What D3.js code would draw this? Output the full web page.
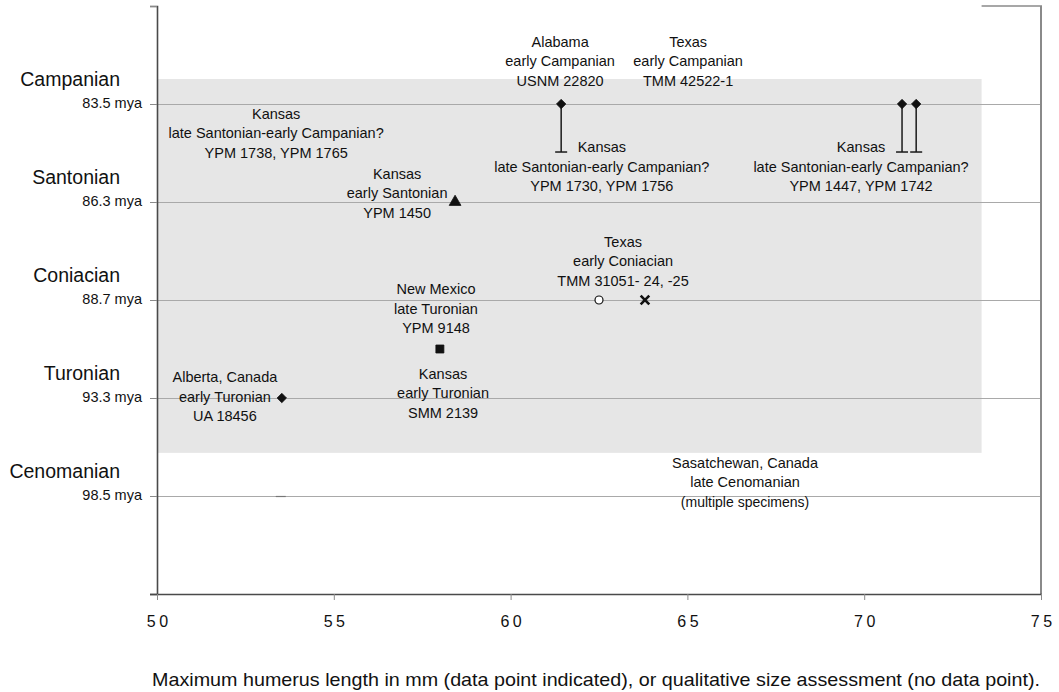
<!DOCTYPE html>
<html>
<head>
<meta charset="utf-8">
<script src="https://cdn.jsdelivr.net/npm/d3@7"></script>
<style>
  html, body { margin: 0; padding: 0; background: #fff; }
  svg { display: block; font-family: "Liberation Sans", Arial, sans-serif; }
</style>
</head>
<body>
<svg id="chart" width="1059" height="692"></svg>
<script>
// ---- data ----
const stages = ["Campanian", "Santonian", "Coniacian", "Turonian", "Cenomanian"];
const stageAges = ["83.5 mya", "86.3 mya", "88.7 mya", "93.3 mya", "98.5 mya"];
const stageLevels = [0, 1, 2, 3, 4];
const xTicks = [50, 55, 60, 65, 70, 75];
const xTitle = "Maximum humerus length in mm (data point indicated), or qualitative size assessment (no data point).";

// specimen points: humerus length (mm) and stage level (0 = Campanian ... 4 = Cenomanian)
const pointLength = [61.43, 71.07, 71.47, 58.43, 62.5, 63.8, 58.0, 53.53, 53.5];
const pointLevel  = [0, 0, 0, 1, 2, 2, 2.5, 3, 4];
const pointShape  = ["diamond", "diamond", "diamond", "triangle", "circle", "cross", "square", "diamond", "dash"];
// error bar lower end (stage level), null when none
const pointErrLow = [0.49, 0.49, 0.49, null, null, null, null, null, null];

// annotation labels: anchor (length, level) of first line
const labelLines = [
  ["Alabama", "early Campanian", "USNM 22820"],
  ["Texas", "early Campanian", "TMM 42522-1"],
  ["Kansas", "late Santonian-early Campanian?", "YPM 1738, YPM 1765"],
  ["Kansas", "late Santonian-early Campanian?", "YPM 1730, YPM 1756"],
  ["Kansas", "late Santonian-early Campanian?", "YPM 1447, YPM 1742"],
  ["Kansas", "early Santonian", "YPM 1450"],
  ["Texas", "early Coniacian", "TMM 31051- 24, -25"],
  ["New Mexico", "late Turonian", "YPM 9148"],
  ["Kansas", "early Turonian", "SMM 2139"],
  ["Alberta, Canada", "early Turonian", "UA 18456"],
  ["Sasatchewan, Canada", "late Cenomanian", "(multiple specimens)"]
];
const labelLength = [61.40, 65.02, 53.37, 62.58, 69.91, 56.79, 63.18, 57.89, 58.09, 51.92, 66.63];
const labelLevel  = [-0.633, -0.633, 0.102, 0.439, 0.439, 0.714, 1.408, 1.888, 2.755, 2.786, 3.663];

// shaded band (length range, level range)
const bandLength = [50, 73.32];
const bandLevel = [-0.255, 3.56];

// ---- drawing ----
const svg = d3.select("#chart");
const x = d3.scaleLinear().domain([50, 75]).range([157, 1041]);
const y = d3.scaleLinear().domain([-1, 5]).range([6, 594]);

// shaded band
svg.append("rect")
  .attr("x", x(bandLength[0]) + 1)
  .attr("y", y(bandLevel[0]))
  .attr("width", x(bandLength[1]) - x(bandLength[0]) - 1)
  .attr("height", y(bandLevel[1]) - y(bandLevel[0]))
  .attr("fill", "#e6e6e6");

// gridlines
svg.append("g").selectAll("line").data(stageLevels).join("line")
  .attr("x1", 150).attr("x2", x(75))
  .attr("y1", d => Math.round(y(d)) + 0.5).attr("y2", d => Math.round(y(d)) + 0.5)
  .attr("stroke", "#a9a9a9").attr("stroke-width", 1);

// right border and top line
svg.append("line")
  .attr("x1", x(75)).attr("x2", x(75)).attr("y1", y(-1)).attr("y2", y(5))
  .attr("stroke", "#8a8a8a").attr("stroke-width", 2);
svg.append("line")
  .attr("x1", x(bandLength[1])).attr("x2", x(75) + 1).attr("y1", y(-1)).attr("y2", y(-1))
  .attr("stroke", "#8a8a8a").attr("stroke-width", 1.5);

// y axis (ticks only)
const yAxis = d3.axisLeft(y).tickValues([-1, 0, 1, 2, 3, 4, 5]).tickSize(7).tickFormat("");
const gy = svg.append("g").attr("transform", `translate(${x(50)},0)`).call(yAxis);
gy.select(".domain").attr("stroke", "#4a4a4a").attr("stroke-width", 1.6);
gy.selectAll(".tick line").attr("stroke", "#8a8a8a");

// x axis
const xAxis = d3.axisBottom(x).tickValues(xTicks).tickSize(6).tickPadding(16).tickSizeOuter(0);
const gx = svg.append("g").attr("transform", `translate(0,${y(5)})`).call(xAxis);
gx.select(".domain").attr("stroke", "#4a4a4a").attr("stroke-width", 1.6)
  .attr("d", `M150,0.5H${x(75) + 1}`);
gx.selectAll(".tick line").attr("stroke", "#8a8a8a");
gx.selectAll(".tick text")
  .attr("font-size", 16)
  .attr("font-family", "Liberation Sans, Arial, sans-serif")
  .attr("fill", "#111")
  .attr("letter-spacing", "3.5px")
  .attr("dx", "1.75px");

// stage labels
svg.append("g").selectAll("text").data(stageLevels).join("text")
  .attr("x", 120).attr("y", d => y(d) - 18)
  .attr("text-anchor", "end").attr("font-size", 19.5).attr("fill", "#111")
  .text((d, i) => stages[i]);
svg.append("g").selectAll("text").data(stageLevels).join("text")
  .attr("x", 142).attr("y", d => y(d) + 4)
  .attr("text-anchor", "end").attr("font-size", 14.5).attr("fill", "#111")
  .text((d, i) => stageAges[i]);

// error bars
const errIdx = d3.range(pointLength.length).filter(i => pointErrLow[i] !== null);
const eg = svg.append("g").attr("stroke", "#1a1a1a").attr("stroke-width", 1.5);
eg.selectAll("line.v").data(errIdx).join("line").attr("class", "v")
  .attr("x1", i => x(pointLength[i])).attr("x2", i => x(pointLength[i]))
  .attr("y1", i => y(pointLevel[i])).attr("y2", i => y(pointErrLow[i]));
eg.selectAll("line.c").data(errIdx).join("line").attr("class", "c")
  .attr("x1", i => x(pointLength[i]) - 6).attr("x2", i => x(pointLength[i]) + 6)
  .attr("y1", i => y(pointErrLow[i])).attr("y2", i => y(pointErrLow[i]));

// markers
const symMap = {
  diamond: d3.symbol().type(d3.symbolDiamond2).size(56),
  triangle: d3.symbol().type(d3.symbolTriangle).size(60),
  square: d3.symbol().type(d3.symbolSquare).size(64),
  cross: d3.symbol().type(d3.symbolX).size(50),
  circle: d3.symbol().type(d3.symbolCircle).size(50)
};
const mg = svg.append("g");
d3.range(pointLength.length).forEach(i => {
  const s = pointShape[i];
  const cx = x(pointLength[i]), cy = y(pointLevel[i]);
  if (s === "dash") {
    mg.append("line").attr("x1", cx - 5).attr("x2", cx + 5)
      .attr("y1", Math.round(cy) + 0.5).attr("y2", Math.round(cy) + 0.5)
      .attr("stroke", "#777").attr("stroke-width", 1.2);
    return;
  }
  const p = mg.append("path").attr("d", symMap[s]()).attr("transform", `translate(${cx},${cy})`);
  if (s === "circle") p.attr("fill", "#fff").attr("stroke", "#111").attr("stroke-width", 1.2);
  else if (s === "cross") p.attr("fill", "none").attr("stroke", "#111").attr("stroke-width", 2.6);
  else p.attr("fill", "#111").attr("stroke", "#111").attr("stroke-width", 0.8);
});

// annotation labels
const lg = svg.append("g").attr("fill", "#111").attr("text-anchor", "middle");
labelLines.forEach((lines, i) => {
  const t = lg.append("text").attr("x", x(labelLength[i])).attr("y", y(labelLevel[i]) + 5);
  lines.forEach((ln, j) => {
    t.append("tspan").attr("x", x(labelLength[i])).attr("dy", j === 0 ? 0 : 19.5)
      .attr("font-size", (i === 10 && j === 2) ? 14 : 14.5)
      .text(ln);
  });
});

// x axis title
svg.append("text")
  .attr("x", 152).attr("y", 686)
  .attr("font-size", 19).attr("fill", "#111")
  .attr("textLength", 888).attr("lengthAdjust", "spacingAndGlyphs")
  .text(xTitle);
</script>
</body>
</html>
